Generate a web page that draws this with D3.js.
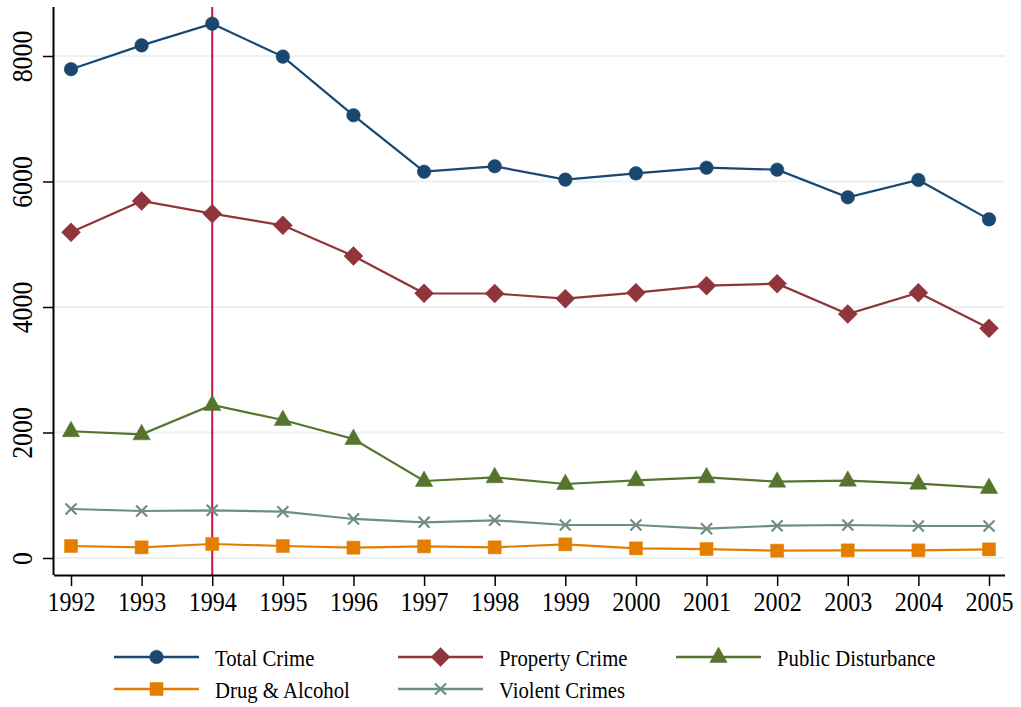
<!DOCTYPE html>
<html>
<head>
<meta charset="utf-8">
<script src="https://cdn.jsdelivr.net/npm/d3@7"></script>
<style>
  body { margin: 0; background: #fff; }
  svg { display: block; }
  svg text { font-family: "Liberation Serif", "Times New Roman", serif !important; }
</style>
</head>
<body>
<svg id="chart" width="1021" height="707"></svg>
<script>
const years = [1992,1993,1994,1995,1996,1997,1998,1999,2000,2001,2002,2003,2004,2005];
const totalCrime = [7790,8170,8515,7990,7055,6156,6242,6030,6130,6220,6188,5748,6024,5397];
const propertyCrime = [5190,5689,5487,5301,4813,4218,4215,4133,4228,4340,4372,3888,4228,3660];
const publicDisturbance = [2020,1971,2438,2199,1896,1227,1286,1179,1238,1286,1216,1232,1184,1116];
const drugAlcohol = [191,170,223,191,164,186,170,218,154,143,117,122,122,138];
const violentCrimes = [781,749,760,738,622,569,601,526,526,467,515,526,510,510];
const yTicks = [0,2000,4000,6000,8000];
const markerYear = 1994;

const seriesNames = ["Total Crime","Property Crime","Public Disturbance","Drug & Alcohol","Violent Crimes"];
const seriesValues = [totalCrime, propertyCrime, publicDisturbance, drugAlcohol, violentCrimes];
const seriesColors = ["#1a476f","#90353b","#55752f","#e37e00","#6e8e84"];
const seriesSymbols = ["circle","diamond","triangle","square","x"];

const svg = d3.select("#chart");
const plotLeft = 54, plotRight = 1005, plotTop = 7, plotBottom = 575;

const x = d3.scaleLinear().domain([1992, 2005]).range([71, 989]);
const y = d3.scaleLinear().domain([0, 8000]).range([558, 56]);

// grid lines
svg.append("g").selectAll("line").data(yTicks).join("line")
  .attr("x1", plotLeft).attr("x2", plotRight)
  .attr("y1", d => y(d)).attr("y2", d => y(d))
  .attr("stroke", "#eaf2f3").attr("stroke-width", 2);

// vertical reference line
svg.append("line")
  .attr("x1", x(markerYear)).attr("x2", x(markerYear))
  .attr("y1", plotTop).attr("y2", plotBottom)
  .attr("stroke", "#c8153f").attr("stroke-width", 2);

function symbolPath(type) {
  switch (type) {
    case "circle": return d3.symbol(d3.symbolCircle, 145)();
    case "square": return d3.symbol(d3.symbolSquare, 170)();
    case "diamond": return "M0,-9.5L9.5,0L0,9.5L-9.5,0Z";
    case "triangle": return "M0,-10L8.7,5.5L-8.7,5.5Z";
    case "x": return "M-5.5,-5.5L5.5,5.5M-5.5,5.5L5.5,-5.5";
  }
}

const line = d3.line().x((d, i) => x(years[i])).y(d => y(d));

// draw series (back to front)
const order = [4,3,2,1,0];
order.forEach(si => {
  const vals = seriesValues[si], col = seriesColors[si], sym = seriesSymbols[si];
  const g = svg.append("g");
  g.append("path").datum(vals).attr("d", line)
    .attr("fill", "none").attr("stroke", col).attr("stroke-width", 2.2);
  g.selectAll("path.m").data(vals).join("path").attr("class", "m")
    .attr("transform", (d, i) => `translate(${x(years[i])},${y(d)})`)
    .attr("d", symbolPath(sym))
    .attr("fill", sym === "x" ? "none" : col)
    .attr("stroke", col)
    .attr("stroke-width", sym === "x" ? 2.2 : 0.5);
});

// axes
const xAxis = d3.axisBottom(x).tickValues(years).tickFormat(d3.format("d")).tickSize(11).tickSizeOuter(0);
const gx = svg.append("g").attr("transform", `translate(0,${plotBottom})`).call(xAxis)
  .attr("font-family", null).attr("font-size", null);
gx.select(".domain").attr("d", `M${plotLeft},0.5H${plotRight}`).attr("stroke", "#000").attr("stroke-width", 2);
gx.selectAll(".tick line").attr("stroke", "#000").attr("stroke-width", 1.5);
gx.selectAll(".tick text")
  .attr("y", 36).attr("dy", null)
  .attr("transform", "scale(0.86,1)")
  .style("font-size", "28px").attr("fill", "#000");

const yAxis = d3.axisLeft(y).tickValues(yTicks).tickFormat(d3.format("d")).tickSize(11).tickSizeOuter(0);
const gy = svg.append("g").attr("transform", `translate(${plotLeft},0)`).call(yAxis)
  .attr("font-family", null).attr("font-size", null);
gy.select(".domain").attr("d", `M-0.5,${plotTop}V${plotBottom}`).attr("stroke", "#000").attr("stroke-width", 2);
gy.selectAll(".tick line").attr("stroke", "#000").attr("stroke-width", 1.5);
gy.selectAll(".tick text")
  .attr("x", 0).attr("y", -22).attr("dy", null)
  .attr("text-anchor", "middle")
  .attr("transform", "rotate(-90) scale(0.86,1)")
  .style("font-size", "30px").attr("fill", "#000");

// legend
const legendPos = [
  {lx: 114, ly: 657}, {lx: 398, ly: 657}, {lx: 676, ly: 657},
  {lx: 114, ly: 689}, {lx: 398, ly: 689}
];
const legend = svg.append("g");
seriesNames.forEach((name, si) => {
  const p = legendPos[si], col = seriesColors[si], sym = seriesSymbols[si];
  const g = legend.append("g").attr("transform", `translate(${p.lx},${p.ly})`);
  g.append("line").attr("x1", 0).attr("x2", 85).attr("y1", 0).attr("y2", 0)
    .attr("stroke", col).attr("stroke-width", 2.5);
  g.append("path").attr("transform", "translate(42.5,0)").attr("d", symbolPath(sym))
    .attr("fill", sym === "x" ? "none" : col).attr("stroke", col)
    .attr("stroke-width", sym === "x" ? 2.2 : 0.5);
  g.append("text").attr("transform", "translate(101,9) scale(0.865,1)")
    .style("font-size", "24px").attr("fill", "#000").text(name);
});
</script>
</body>
</html>
